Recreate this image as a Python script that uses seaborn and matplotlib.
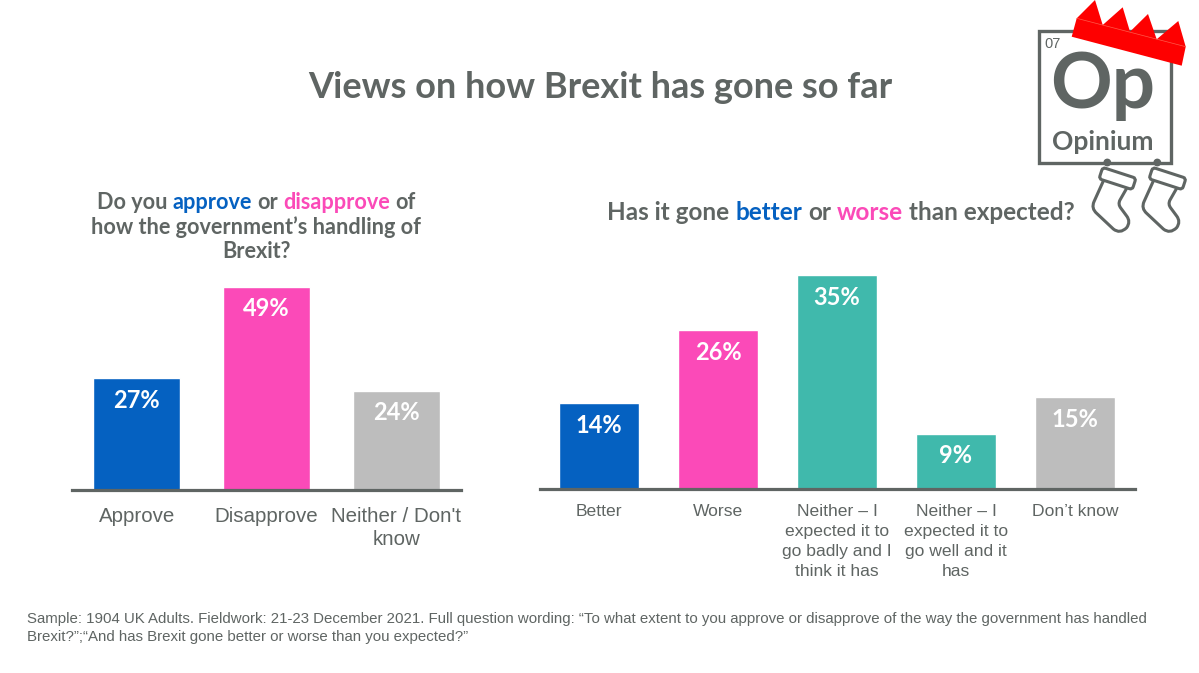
import pandas as pd
import matplotlib
matplotlib.use("Agg")
import matplotlib.pyplot as plt
import matplotlib.patches as mpatches
from matplotlib.path import Path
from matplotlib.transforms import Affine2D
import seaborn as sns

# ---------- Data ----------
approve_cats = ["Approve", "Disapprove", "Neither / Don't\nknow"]
approve_vals = [27, 49, 24]
approve_cols = ["#0561c1", "#fb4ab8", "#bdbdbd"]

better_cats = ["Better", "Worse", "Neither \u2013 I\nexpected it to\ngo badly and I\nthink it has",
               "Neither \u2013 I\nexpected it to\ngo well and it\nhas", "Don\u2019t know"]
better_vals = [14, 26, 35, 9, 15]
better_cols = ["#0561c1", "#fb4ab8", "#40b9ac", "#40b9ac", "#bdbdbd"]

GREY = "#5f6563"
BLUE = "#0561c1"
PINK = "#fb4ab8"
HEAD_FONT = "Lato"
BODY_FONT = "Liberation Sans"

W, H = 1199, 673

sns.set_theme(style="white")
fig = plt.figure(figsize=(W / 100, H / 100), dpi=100, facecolor="white")


def px_axes(left, top, right, bottom):
    return fig.add_axes([left / W, 1 - bottom / H, (right - left) / W, (bottom - top) / H])


def draw_bars(ax, cats, vals, cols, ymax, width, tick_size, linesp, pad):
    df = pd.DataFrame({"cat": cats, "val": vals})
    sns.barplot(data=df, x="cat", y="val", hue="cat", palette=cols, dodge=False,
                width=width, saturation=1, legend=False, ax=ax)
    ax.set_xlim(-0.5, len(cats) - 0.5)
    ax.set_ylim(0, ymax)
    ax.set_xlabel("")
    ax.set_ylabel("")
    ax.set_yticks([])
    ax.patch.set_alpha(0)
    for side in ["top", "left", "right"]:
        ax.spines[side].set_visible(False)
    ax.spines["bottom"].set_color(GREY)
    ax.spines["bottom"].set_linewidth(2.3)
    ax.tick_params(axis="x", length=0, pad=pad)
    for lab in ax.get_xticklabels():
        lab.set_fontfamily(BODY_FONT)
        lab.set_fontsize(tick_size)
        lab.set_color(GREY)
        lab.set_linespacing(linesp)
    for cont, v in zip(ax.containers, vals):
        ax.bar_label(cont, labels=[f"{v}%"], padding=-24, color="white",
                     fontsize=17, fontweight="bold", family=HEAD_FONT)


ax1 = px_axes(72, 284, 461, 490)
draw_bars(ax1, approve_cats, approve_vals, approve_cols, 49.75, 0.672, 14.8, 1.27, 12)

ax2 = px_axes(539.5, 270, 1134.5, 489)
draw_bars(ax2, better_cats, better_vals, better_cols, 35.85, 0.675, 12.6, 1.42, 10.5)

fig.canvas.draw()
renderer = fig.canvas.get_renderer()


def color_line(cx, y, parts, size):
    # one centred line of text made of coloured pieces
    sp = fig.text(0, 0, "x x", fontsize=size, fontweight="bold", family=HEAD_FONT)
    wx = fig.text(0, 0, "xx", fontsize=size, fontweight="bold", family=HEAD_FONT)
    space = sp.get_window_extent(renderer).width - wx.get_window_extent(renderer).width
    sp.remove()
    wx.remove()
    pieces = []
    total = -space
    for s, c in parts:
        t = fig.text(0, 1 - y / H, s, color=c, fontsize=size, fontweight="bold",
                     family=HEAD_FONT, va="center", ha="left")
        w = t.get_window_extent(renderer).width
        pieces.append((t, w))
        total += w + space
    x = cx - total / 2
    for t, w in pieces:
        t.set_x(x / W)
        x += w + space


fig.text(600 / W, 1 - 87 / H, "Views on how Brexit has gone so far", color=GREY, fontsize=26,
         fontweight="bold", family=HEAD_FONT, ha="center", va="center")

color_line(256, 202, [("Do you", GREY), ("approve", BLUE), ("or", GREY), ("disapprove", PINK), ("of", GREY)], 15.6)
color_line(256, 227, [("how the government\u2019s handling of", GREY)], 15.6)
color_line(256, 251, [("Brexit?", GREY)], 15.6)
color_line(841, 212, [("Has it gone", GREY), ("better", BLUE), ("or", GREY), ("worse", PINK),
                      ("than expected?", GREY)], 17.5)

fig.text(27 / W, 1 - 619 / H,
         "Sample: 1904 UK Adults. Fieldwork: 21-23 December 2021. Full question wording: \u201cTo what extent to you approve or disapprove of the way the government has handled",
         color=GREY, fontsize=10.78, family=BODY_FONT, va="center")
fig.text(27 / W, 1 - 637 / H,
         "Brexit?\u201d;\u201cAnd has Brexit gone better or worse than you expected?\u201d",
         color=GREY, fontsize=10.78, family=BODY_FONT, va="center")

# ---------- Logo, drawn in pixel space ----------
logo = fig.add_axes([0, 0, 1, 1], zorder=5)
logo.set_xlim(0, W)
logo.set_ylim(H, 0)
logo.axis("off")
logo.patch.set_alpha(0)

logo.add_patch(mpatches.Rectangle((1038.5, 31), 132.5, 132, fill=False, edgecolor=GREY, linewidth=2.4))
logo.text(1044.5, 44.5, "07", color=GREY, fontsize=10.5, family=BODY_FONT, va="center")
logo.text(1103, 86, "Op", color=GREY, fontsize=55, family=HEAD_FONT, fontweight="bold",
          ha="center", va="center")
logo.text(1103, 142, "Opinium", color=GREY, fontsize=19, family=HEAD_FONT, fontweight="bold",
          ha="center", va="center")

crown = [(1076.7, 18.3), (1095, 0), (1102.7, 25), (1122.7, 7.3), (1130, 31.7), (1148, 14), (1156.7, 39.3),
         (1178.3, 21), (1185.7, 46.7), (1181.7, 65.7), (1071.7, 36.7)]
logo.add_patch(mpatches.Polygon(crown, closed=True, facecolor="#fe0000", edgecolor="none"))
logo.plot([1076.7, 1185.7], [18.3, 46.7], color="#ff5a4a", lw=0.5)

# stocking outline, in 1/3 px steps from the stocking's corner
sock_pts = [(55, 78), (27, 140), (18, 160), (35, 175), (85, 222), (105, 238), (125, 218), (138, 200),
            (125, 183), (108, 160), (98, 148), (105, 135), (125, 100)]
sock_codes = [Path.MOVETO, Path.LINETO, Path.CURVE3, Path.CURVE3, Path.LINETO, Path.CURVE3, Path.CURVE3,
              Path.CURVE3, Path.CURVE3, Path.LINETO, Path.CURVE3, Path.CURVE3, Path.LINETO]
for dx in [0, 50]:
    verts = [(1085 + dx + a / 3, 155 + b / 3) for a, b in sock_pts]
    logo.add_patch(mpatches.PathPatch(Path(verts, sock_codes), fill=False, edgecolor=GREY, linewidth=2.2,
                                      capstyle="round", joinstyle="round"))
    cuff = mpatches.FancyBboxPatch((-15, -3.5), 30, 7, boxstyle="round,pad=2.5,rounding_size=3",
                                   facecolor="white", edgecolor=GREY, linewidth=2.2,
                                   transform=Affine2D().rotate_deg(18).translate(1117.5 + dx, 178.5) + logo.transData)
    logo.add_patch(cuff)
    logo.add_patch(mpatches.Circle((1107.3 + dx, 162.5), 3.2, facecolor=GREY, edgecolor=GREY, linewidth=1))

fig.savefig("out.png", dpi=100, facecolor="white")
